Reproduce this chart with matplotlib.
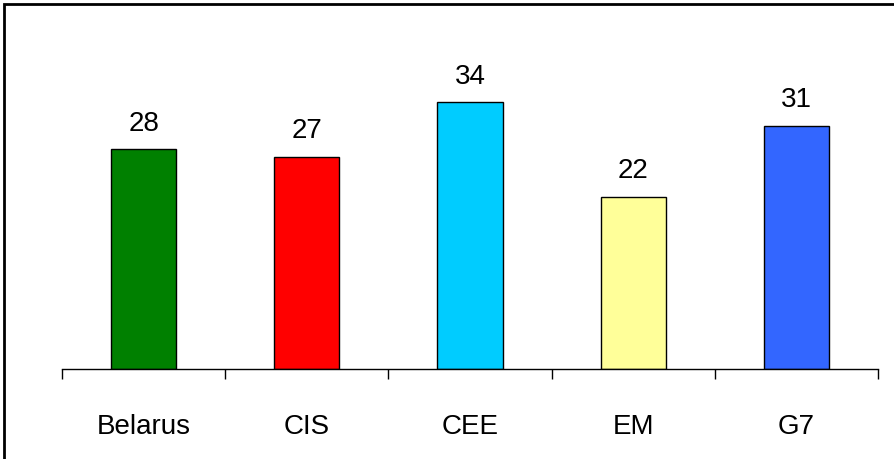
import matplotlib
matplotlib.use("Agg")
import matplotlib.pyplot as plt
from matplotlib.patches import Rectangle

categories = ["Belarus", "CIS", "CEE", "EM", "G7"]
values = [28, 27, 34, 22, 31]
colors = ["#008000", "#FF0000", "#00CCFF", "#FFFF99", "#3366FF"]

plt.rcParams['font.family'] = ['Liberation Sans', 'DejaVu Sans']

W, H = 895, 460
fig = plt.figure(figsize=(W / 100, H / 100), dpi=100)

# axes placed in pixel terms: x-axis at y=370, 0..40 spans ~314 px
ax = fig.add_axes([62 / W, (H - 370) / H, (878 - 62) / W, 313.6 / H])

x = list(range(len(categories)))
bars = ax.bar(x, values, width=0.40, color=colors, edgecolor="black", linewidth=1.0)

for b, v in zip(bars, values):
    ax.annotate(str(v), (b.get_x() + b.get_width() / 2, v), xytext=(0, 10),
                textcoords="offset points", ha="center", va="bottom", fontsize=20)

ax.set_xlim(-0.5, len(categories) - 0.5)
ax.set_ylim(0, 40)

for s in ["top", "right", "left"]:
    ax.spines[s].set_visible(False)
ax.spines["bottom"].set_linewidth(1.0)
ax.set_yticks([])

# ticks between categories, labels centered
ax.set_xticks([i - 0.5 for i in range(len(categories) + 1)])
ax.set_xticklabels([])
ax.tick_params(axis="x", direction="out", length=7, width=1.0)
ax.set_xticks(x, minor=True)
ax.set_xticklabels(categories, minor=True, fontsize=20)
ax.tick_params(axis="x", which="minor", length=0, pad=32)

# outer frame (right and bottom run off the image)
fig.patches.append(Rectangle((4 / W, -0.1), 1.2, (H - 4) / H + 0.1 - 0.003,
                             transform=fig.transFigure, fill=False,
                             edgecolor="black", linewidth=2.0))

fig.savefig("out.png", dpi=100)
